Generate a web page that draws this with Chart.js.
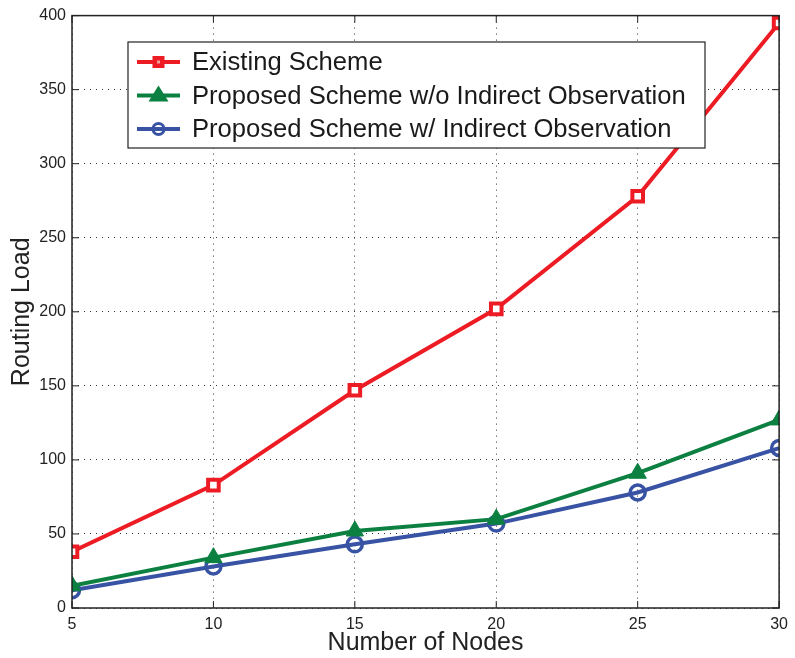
<!DOCTYPE html>
<html><head><meta charset="utf-8">
<script src="https://cdn.jsdelivr.net/npm/chart.js@4"></script>
<style>html,body{margin:0;padding:0;background:#fff}#w{width:795px;height:658px}</style>
</head><body><div id="w"><canvas id="c" width="795" height="658"></canvas></div>
<script>
const nodes = [5, 10, 15, 20, 25, 30];
const existing = [38, 83, 147, 202, 278, 395];
const proposedNoIndirect = [15, 34, 52, 60, 91, 127];
const proposedIndirect = [12, 28, 43, 57, 78, 108];
const seriesLabels = ['Existing Scheme', 'Proposed Scheme w/o Indirect Observation', 'Proposed Scheme w/ Indirect Observation'];
const xTicks = [5, 10, 15, 20, 25, 30];
const yTicks = [0, 50, 100, 150, 200, 250, 300, 350, 400];

const FONT = '"Liberation Sans", Arial, Helvetica, sans-serif';
const RED = '#ED1C24', GREEN = '#0B8040', BLUE = '#3953A4';

function pts(arr){ return arr.map((v,i)=>({x:nodes[i], y:v})); }

const frame = {
  id:'frame',
  afterDatasetsDraw(chart){
    const {ctx, chartArea:a, scales:{x,y}} = chart;
    ctx.save();
    ctx.strokeStyle = '#222'; ctx.lineWidth = 1.5;
    ctx.strokeRect(a.left, a.top, a.right-a.left, a.bottom-a.top);
    ctx.lineWidth = 1;
    const t = 7;
    xTicks.forEach(v=>{ const px = x.getPixelForValue(v);
      ctx.beginPath(); ctx.moveTo(px,a.bottom); ctx.lineTo(px,a.bottom-t);
      ctx.moveTo(px,a.top); ctx.lineTo(px,a.top+t); ctx.stroke(); });
    yTicks.forEach(v=>{ const py = y.getPixelForValue(v);
      ctx.beginPath(); ctx.moveTo(a.left,py); ctx.lineTo(a.left+t,py);
      ctx.moveTo(a.right,py); ctx.lineTo(a.right-t,py); ctx.stroke(); });
    ctx.restore();
  }
};

const legendBox = {
  id:'legendBox',
  afterDraw(chart){
    const ctx = chart.ctx;
    const L=128, T=42, W=577, H=106;
    ctx.save();
    ctx.fillStyle='#fff'; ctx.fillRect(L,T,W,H);
    ctx.strokeStyle='#222'; ctx.lineWidth=1.2; ctx.strokeRect(L,T,W,H);
    chart.data.datasets.forEach((ds,i)=>{
      const cy = 62 + i*33.5;
      ctx.strokeStyle = ds.borderColor; ctx.lineWidth = 4;
      ctx.beginPath(); ctx.moveTo(137,cy); ctx.lineTo(180,cy); ctx.stroke();
      const cx = 158.5;
      ctx.lineWidth = 3;
      if(ds.pointStyle==='rect'){
        ctx.fillStyle=ds.borderColor; ctx.fillRect(cx-6,cy-6,12,12);
        ctx.fillStyle='#f4a0a0'; ctx.fillRect(cx-1.5,cy-1.5,3,3);
      } else if(ds.pointStyle==='triangle'){
        ctx.fillStyle=ds.borderColor; ctx.beginPath();
        ctx.moveTo(cx,cy-10); ctx.lineTo(cx+10,cy+6); ctx.lineTo(cx-10,cy+6); ctx.closePath(); ctx.fill();
      } else {
        ctx.beginPath(); ctx.arc(cx,cy,5.5,0,Math.PI*2); ctx.stroke();
      }
      ctx.fillStyle='#1a1a1a'; ctx.font='25.6px '+FONT; ctx.textBaseline='middle'; ctx.textAlign='left';
      ctx.fillText(ds.label, 192, cy+1);
    });
    ctx.restore();
  }
};

new Chart(document.getElementById('c'), {
  type:'line',
  data:{ datasets:[
    {label:seriesLabels[0], data:pts(existing), borderColor:RED, borderWidth:4, pointStyle:'rect', pointRadius:7.5, pointBorderWidth:4, pointBackgroundColor:'#fff', pointBorderColor:RED},
    {label:seriesLabels[1], data:pts(proposedNoIndirect), borderColor:GREEN, borderWidth:4, pointStyle:'triangle', pointRadius:10, pointBorderWidth:1, pointBackgroundColor:GREEN, pointBorderColor:GREEN},
    {label:seriesLabels[2], data:pts(proposedIndirect), borderColor:BLUE, borderWidth:4, pointStyle:'circle', pointRadius:7.5, pointBorderWidth:3.5, pointBackgroundColor:'rgba(255,255,255,0)', pointBorderColor:BLUE}
  ]},
  options:{
    responsive:false, animation:false, devicePixelRatio:1,
    layout:{padding:{top:13, right:8, left:0, bottom:0}},
    plugins:{legend:{display:false}, tooltip:{enabled:false}},
    scales:{
      x:{type:'linear', min:5, max:30,
        afterBuildTicks(s){ s.ticks = xTicks.map(v=>({value:v})); },
        afterFit(s){ s.height = 50; },
        grid:{color:'#333', lineWidth:1, drawTicks:false},
        border:{display:false, dash:[1,5]},
        ticks:{color:'#222', font:{size:16, family:FONT}, padding:7, maxRotation:0},
        title:{display:true, text:'Number of Nodes', color:'#222', font:{size:25, family:FONT}, padding:{top:0,bottom:0}}
      },
      y:{min:0, max:400,
        afterBuildTicks(s){ s.ticks = yTicks.map(v=>({value:v})); },
        afterFit(s){ s.width = 72; },
        grid:{color:'#333', lineWidth:1, drawTicks:false},
        border:{display:false, dash:[1,5]},
        ticks:{color:'#222', font:{size:16, family:FONT}, padding:6},
        title:{display:true, text:'Routing Load', color:'#222', font:{size:25, family:FONT}, padding:{top:7,bottom:0}}
      }
    }
  },
  plugins:[frame, legendBox]
});
</script></body></html>
